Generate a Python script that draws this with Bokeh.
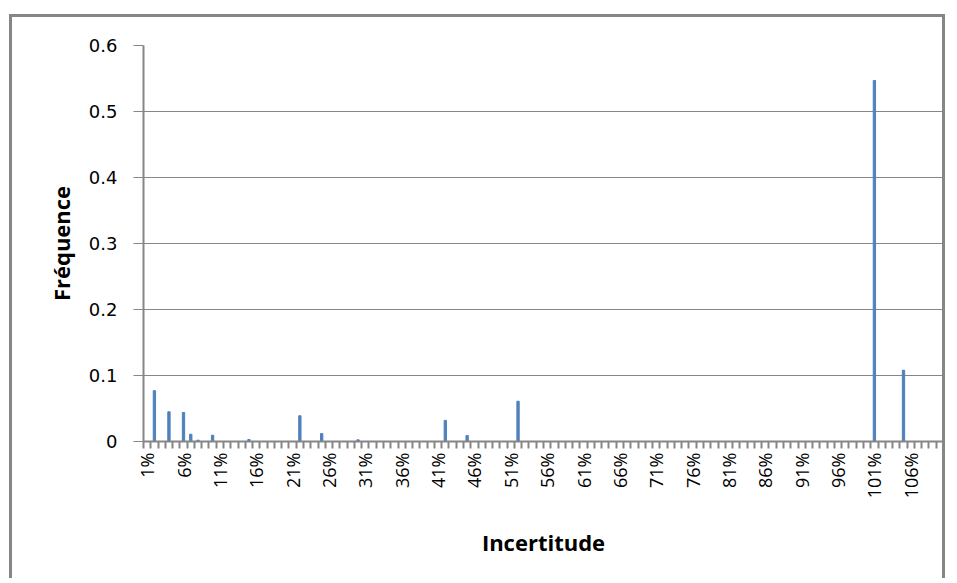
import math
from bokeh.plotting import figure
from bokeh.models import Range1d, FixedTicker
from bokeh.embed import file_html
from bokeh.resources import INLINE

# ---- data ----
categories = [f"{i}%" for i in range(1, 111)]
bar_categories = ["2%", "4%", "6%", "7%", "8%", "10%", "15%", "22%", "25%",
                  "30%", "42%", "45%", "52%", "101%", "105%"]
frequencies = [0.077, 0.045, 0.044, 0.011, 0.002, 0.0095, 0.003, 0.039, 0.012,
               0.0025, 0.032, 0.009, 0.061, 0.547, 0.108]
x_tick_labels = ["1%", "6%", "11%", "16%", "21%", "26%", "31%", "36%", "41%",
                 "46%", "51%", "56%", "61%", "66%", "71%", "76%", "81%", "86%",
                 "91%", "96%", "101%", "106%"]
y_ticks = [0, 0.1, 0.2, 0.3, 0.4, 0.5, 0.6]
y_tick_labels = ["0", "0.1", "0.2", "0.3", "0.4", "0.5", "0.6"]

# map categories to positions
pos = {c: i + 1 for i, c in enumerate(categories)}
bar_x = [pos[c] for c in bar_categories]
xt = [pos[c] for c in x_tick_labels]

GRAY = "#868686"

p = figure(width=936, height=564, output_backend="svg", toolbar_location=None,
           x_range=Range1d(0.5, len(categories) + 0.5), y_range=Range1d(0, 0.6),
           min_border_left=131, min_border_top=28, min_border_right=5,
           min_border_bottom=140)
p.styles = {"border-top": f"3px solid {GRAY}", "border-left": f"3px solid {GRAY}",
            "border-right": f"3px solid {GRAY}", "position": "relative",
            "top": "14px", "left": "9px"}
p.outline_line_color = None
p.background_fill_color = "white"
p.border_fill_color = "white"

p.vbar(x=bar_x, top=frequencies, width=0.32, color="#4F81BD")

# x axis
p.xaxis.ticker = FixedTicker(ticks=xt, minor_ticks=[i + 0.5 for i in range(0, len(categories) + 1)])
p.xaxis.major_label_overrides = {t: lab for t, lab in zip(xt, x_tick_labels)}
p.xaxis.major_label_orientation = math.pi / 2
p.xaxis.major_tick_line_color = None
p.xaxis.major_tick_out = 0
p.xaxis.major_tick_in = 0
p.xaxis.minor_tick_line_color = GRAY
p.xaxis.minor_tick_line_width = 2
p.xaxis.minor_tick_out = 7
p.xaxis.minor_tick_in = 0
p.xaxis.axis_line_color = GRAY
p.xaxis.axis_line_width = 2
p.xaxis.major_label_standoff = 4
p.xaxis.major_label_text_font = "Open Sans"
p.xaxis.major_label_text_font_size = "18px"
p.xaxis.major_label_text_color = "black"
p.xaxis.axis_label = "Incertitude"
p.xaxis.axis_label_text_font = "Open Sans"
p.xaxis.axis_label_text_font_style = "bold"
p.xaxis.axis_label_text_font_size = "22px"
p.xaxis.axis_label_text_color = "black"
p.xaxis.axis_label_standoff = 26

# y axis
p.yaxis.ticker = FixedTicker(ticks=y_ticks, minor_ticks=[])
p.yaxis.major_label_overrides = {t: lab for t, lab in zip(y_ticks, y_tick_labels)}
p.yaxis.major_tick_line_color = GRAY
p.yaxis.major_tick_out = 10
p.yaxis.major_tick_in = 0
p.yaxis.minor_tick_line_color = None
p.yaxis.axis_line_color = GRAY
p.yaxis.axis_line_width = 2
p.yaxis.major_label_standoff = 16
p.yaxis.major_label_text_font = "DejaVu Sans"
p.yaxis.major_label_text_font_size = "18px"
p.yaxis.major_label_text_color = "black"
p.yaxis.axis_label = "Fréquence"
p.yaxis.axis_label_text_font = "Open Sans"
p.yaxis.axis_label_text_font_style = "bold"
p.yaxis.axis_label_text_font_size = "22px"
p.yaxis.axis_label_text_color = "black"
p.yaxis.axis_label_standoff = 10

p.xgrid.grid_line_color = None
p.ygrid.grid_line_color = GRAY
p.ygrid.grid_line_width = 1

open("out.html", "w").write(file_html(p, INLINE))
